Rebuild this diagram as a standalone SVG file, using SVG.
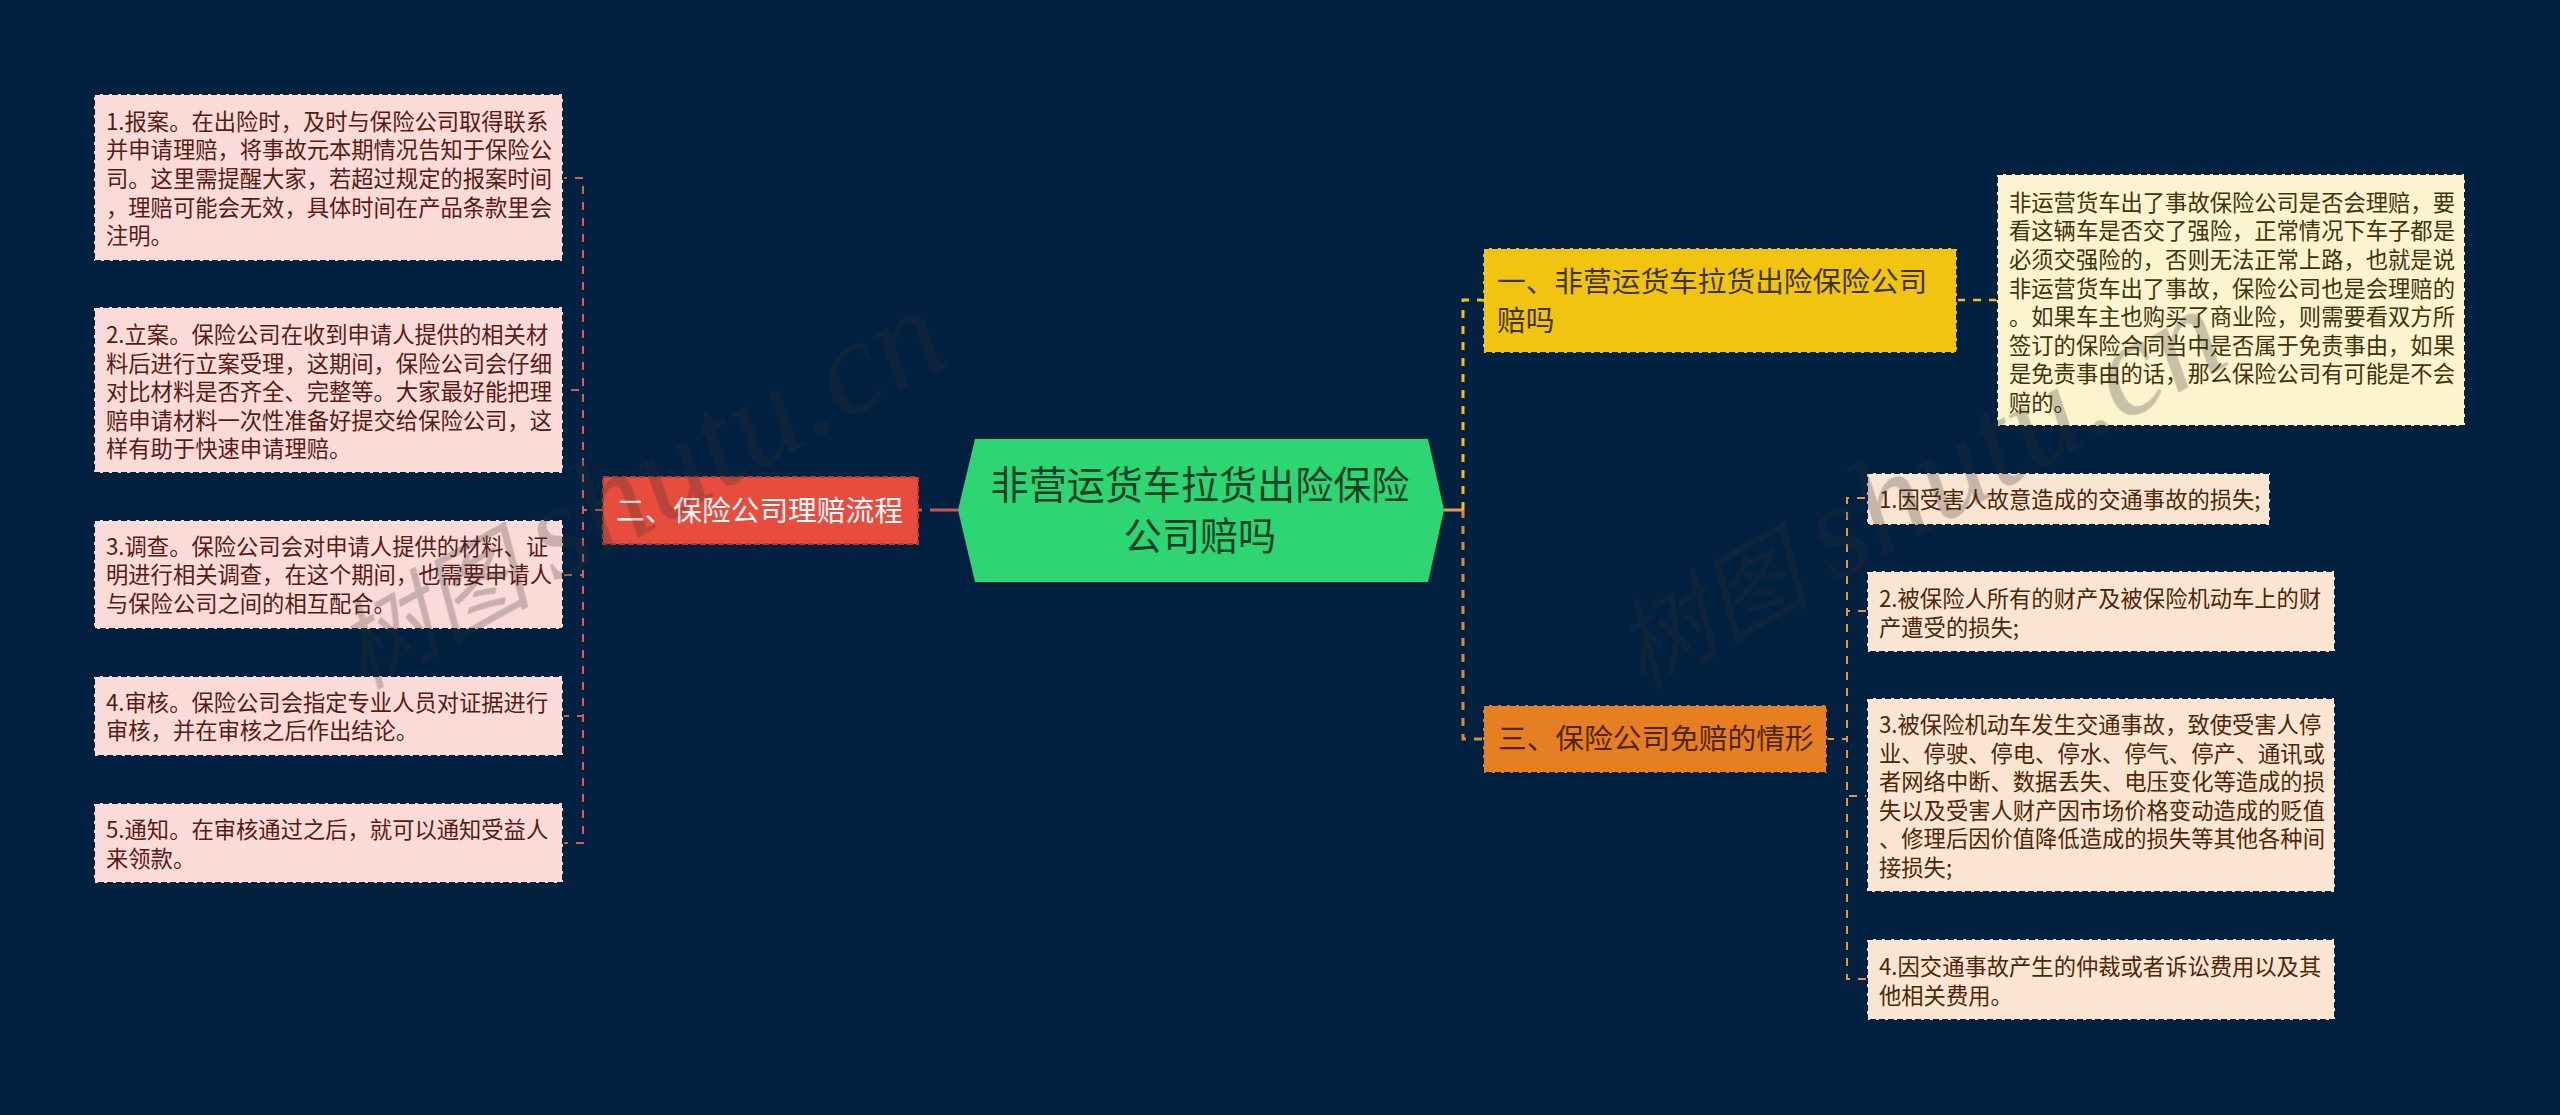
<svg xmlns="http://www.w3.org/2000/svg" width="2560" height="1115" viewBox="0 0 2560 1115">
<style>
text{font-family:"Noto Sans CJK SC","Liberation Sans",sans-serif}
.box{stroke:#022040;stroke-width:2;stroke-dasharray:6 3}
.t{font-size:22.3px}
.m{font-size:28.7px}
.pink{fill:#fadbd8}.pt{fill:#581a14}
.cream{fill:#fcf3cf}.ct{fill:#3f340a}
.peach{fill:#fae5d3}.ot{fill:#4f2506}
.c{fill:none;stroke-dasharray:8 8}
.l2r{stroke:#d35f5a;stroke-width:2}
.l2o{stroke:#e8954a;stroke-width:2}
.wm{fill:#333;opacity:.26}
.wm text{font-family:"Liberation Serif","Noto Sans CJK SC",serif;font-style:italic}
</style>
<rect width="2560" height="1115" fill="#022040"/>
<g id="connectors">
<path class="c l2r" d="M603 510H583V178H563"/>
<path class="c l2r" d="M603 510H583V390H563"/>
<path class="c l2r" d="M603 510H583V575H563"/>
<path class="c l2r" d="M603 510H583V716H563"/>
<path class="c l2r" d="M603 510H583V843H563"/>
<path d="M958 510H918" fill="none" stroke="#cc5350" stroke-width="3" stroke-dasharray="28 8 4"/>
<path d="M1444 510H1463" fill="none" stroke="#e8954a" stroke-width="3"/>
<path class="c" d="M1463 510V300H1483" stroke="#f1c40f" stroke-width="3"/>
<path class="c" d="M1463 510V739H1483" stroke="#e8862e" stroke-width="3"/>
<path class="c" d="M1957 300H1997" stroke="#f1c40f" stroke-width="2.5"/>
<path class="c l2o" d="M1826 739H1847V498H1867"/>
<path class="c l2o" d="M1826 739H1847V611H1867"/>
<path class="c l2o" d="M1826 739H1847V796H1867"/>
<path class="c l2o" d="M1826 739H1847V979H1867"/>
</g>
<g id="root">
<path d="M958 510L975 439H1428L1444 510L1428 582H975Z" fill="#2ed573"/>
<text font-size="38.1" fill="#123f25" text-anchor="middle"><tspan x="1200" y="499">非营运货车拉货出险保险</tspan><tspan x="1200" y="550">公司赔吗</tspan></text>
</g>
<g id="branch-2">
<rect class="box" x="603" y="477" width="315" height="67" fill="#e74c3c" style="stroke:#b83a30"/>
<text class="m" x="616" y="520.5" fill="#fff">二、保险公司理赔流程</text>
</g>
<g id="leaf-2-1">
<rect class="box pink" x="94" y="94" width="469" height="167"/>
<text class="t pt"><tspan x="106" y="129.7">1.报案。在出险时，及时与保险公司取得联系</tspan><tspan x="106" dy="28.6">并申请理赔，将事故元本期情况告知于保险公</tspan><tspan x="106" dy="28.6">司。这里需提醒大家，若超过规定的报案时间</tspan><tspan x="106" dy="28.6">，理赔可能会无效，具体时间在产品条款里会</tspan><tspan x="106" dy="28.6">注明。</tspan></text>
</g>
<g id="leaf-2-2">
<rect class="box pink" x="94" y="307" width="469" height="166"/>
<text class="t pt"><tspan x="106" y="343">2.立案。保险公司在收到申请人提供的相关材</tspan><tspan x="106" dy="28.6">料后进行立案受理，这期间，保险公司会仔细</tspan><tspan x="106" dy="28.6">对比材料是否齐全、完整等。大家最好能把理</tspan><tspan x="106" dy="28.6">赔申请材料一次性准备好提交给保险公司，这</tspan><tspan x="106" dy="28.6">样有助于快速申请理赔。</tspan></text>
</g>
<g id="leaf-2-3">
<rect class="box pink" x="94" y="520" width="469" height="109"/>
<text class="t pt"><tspan x="106" y="554.7">3.调查。保险公司会对申请人提供的材料、证</tspan><tspan x="106" dy="28.6">明进行相关调查，在这个期间，也需要申请人</tspan><tspan x="106" dy="28.6">与保险公司之间的相互配合。</tspan></text>
</g>
<g id="leaf-2-4">
<rect class="box pink" x="94" y="676" width="469" height="80"/>
<text class="t pt"><tspan x="106" y="710.7">4.审核。保险公司会指定专业人员对证据进行</tspan><tspan x="106" dy="28.6">审核，并在审核之后作出结论。</tspan></text>
</g>
<g id="leaf-2-5">
<rect class="box pink" x="94" y="803" width="469" height="80"/>
<text class="t pt"><tspan x="106" y="838">5.通知。在审核通过之后，就可以通知受益人</tspan><tspan x="106" dy="28.6">来领款。</tspan></text>
</g>
<g id="branch-1">
<rect class="box" x="1483" y="248" width="474" height="105" fill="#f1c40f"/>
<text class="m" fill="#3f340a"><tspan x="1497" y="292">一、非营运货车拉货出险保险公司</tspan><tspan x="1497" dy="39">赔吗</tspan></text>
</g>
<g id="leaf-1-1">
<rect class="box cream" x="1997" y="174" width="468" height="252"/>
<text class="t ct"><tspan x="2009" y="210.7">非运营货车出了事故保险公司是否会理赔，要</tspan><tspan x="2009" dy="28.6">看这辆车是否交了强险，正常情况下车子都是</tspan><tspan x="2009" dy="28.6">必须交强险的，否则无法正常上路，也就是说</tspan><tspan x="2009" dy="28.6">非运营货车出了事故，保险公司也是会理赔的</tspan><tspan x="2009" dy="28.6">。如果车主也购买了商业险，则需要看双方所</tspan><tspan x="2009" dy="28.6">签订的保险合同当中是否属于免责事由，如果</tspan><tspan x="2009" dy="28.6">是免责事由的话，那么保险公司有可能是不会</tspan><tspan x="2009" dy="28.6">赔的。</tspan></text>
</g>
<g id="branch-3">
<rect class="box" x="1483" y="705" width="344" height="68" fill="#e67e22"/>
<text class="m" x="1498" y="749" fill="#4f2506">三、保险公司免赔的情形</text>
</g>
<g id="leaf-3-1">
<rect class="box peach" x="1867" y="473" width="403" height="52"/>
<text class="t ot" x="1879" y="508">1.因受害人故意造成的交通事故的损失;</text>
</g>
<g id="leaf-3-2">
<rect class="box peach" x="1867" y="571" width="468" height="81"/>
<text class="t ot"><tspan x="1879" y="607">2.被保险人所有的财产及被保险机动车上的财</tspan><tspan x="1879" dy="28.6">产遭受的损失;</tspan></text>
</g>
<g id="leaf-3-3">
<rect class="box peach" x="1867" y="698" width="468" height="194"/>
<text class="t ot"><tspan x="1879" y="733">3.被保险机动车发生交通事故，致使受害人停</tspan><tspan x="1879" dy="28.6">业、停驶、停电、停水、停气、停产、通讯或</tspan><tspan x="1879" dy="28.6">者网络中断、数据丢失、电压变化等造成的损</tspan><tspan x="1879" dy="28.6">失以及受害人财产因市场价格变动造成的贬值</tspan><tspan x="1879" dy="28.6">、修理后因价值降低造成的损失等其他各种间</tspan><tspan x="1879" dy="28.6">接损失;</tspan></text>
</g>
<g id="leaf-3-4">
<rect class="box peach" x="1867" y="939" width="468" height="81"/>
<text class="t ot"><tspan x="1879" y="975">4.因交通事故产生的仲裁或者诉讼费用以及其</tspan><tspan x="1879" dy="28.6">他相关费用。</tspan></text>
</g>
<g id="watermarks" class="wm">
<text transform="translate(362 690) rotate(-29)"><tspan font-size="98">树图 </tspan><tspan font-size="136">shutu.cn</tspan></text>
<text transform="translate(1641 690) rotate(-29)"><tspan font-size="98">树图 </tspan><tspan font-size="136">shutu.cn</tspan></text>
</g>
</svg>
